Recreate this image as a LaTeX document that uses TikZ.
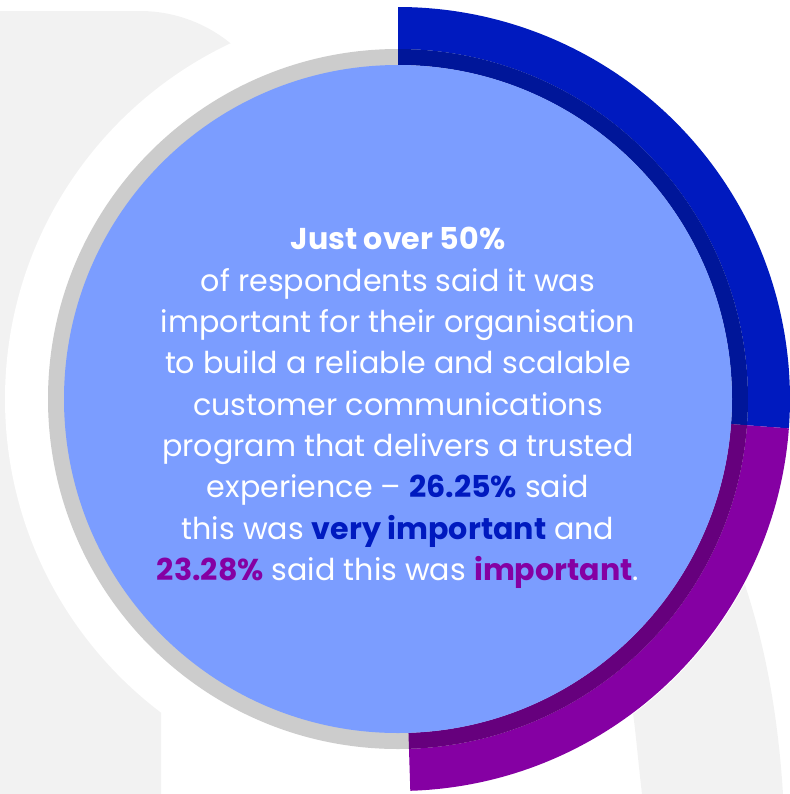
\documentclass[tikz,border=0pt]{standalone}
\usepackage{fontspec}
\setmainfont{Poppins}
\usetikzlibrary{calc}
\definecolor{bggray}{RGB}{242,242,242}
\definecolor{ringgray}{RGB}{204,204,204}
\definecolor{discblue}{RGB}{123,157,255}
\definecolor{veryblue}{RGB}{0,26,191}
\definecolor{verybluedark}{RGB}{0,22,153}
\definecolor{imppurple}{RGB}{133,0,163}
\definecolor{imppurpledark}{RGB}{102,0,125}
\tikzset{every picture/.style={line width=0.75pt}}

\begin{document}
\begin{tikzpicture}[x=0.75pt,y=0.75pt,yscale=-1,xscale=1]
	\useasboundingbox (0,0) rectangle (790,794);
	\coordinate (c) at (398,399);
	
	%Shape: Background
	\fill[bggray] (0,794) -- (0,11) -- (140,11) arc[start angle=-90,end angle=-30,radius=143] -- (c) -- (720,520) .. controls (760,610) and (777,700) .. (783,794) -- (642,794) .. controls (638,760) and (636,735) .. (633,713) -- (c) -- (161,713) -- (161,794) -- cycle ;
	%Shape: Circle
	\fill[white] (c) circle[radius=393] ;
	%Shape: Circle
	\fill[ringgray] (c) circle[radius=350] ;
	
	%Shape: Arc
	\fill[veryblue] ([shift={(-90:392)}]c) arc[start angle=-90,end angle=4.3,radius=392] -- ([shift={(4.3:350)}]c) arc[start angle=4.3,end angle=-90,radius=350] -- cycle ;
	\fill[verybluedark] ([shift={(-90:350)}]c) arc[start angle=-90,end angle=4.3,radius=350] -- ([shift={(4.3:334)}]c) arc[start angle=4.3,end angle=-90,radius=334] -- cycle ;
	%Shape: Arc
	\fill[imppurple] ([shift={(4.3:392)}]c) arc[start angle=4.3,end angle=88.2,radius=392] -- ([shift={(88.2:350)}]c) arc[start angle=88.2,end angle=4.3,radius=350] -- cycle ;
	\fill[imppurpledark] ([shift={(4.3:350)}]c) arc[start angle=4.3,end angle=88.2,radius=350] -- ([shift={(88.2:334)}]c) arc[start angle=88.2,end angle=4.3,radius=334] -- cycle ;
	
	%Shape: Circle
	\fill[discblue] (c) circle[radius=334] ;
	
	% Text Node
	\node[align=center, text=white, font=\fontsize{22.6}{31}\selectfont] (blurb) at (398,408) {\textbf{Just over 50\%}\\of respondents said it was\\important for their organisation\\to build a reliable and scalable\\customer communications\\program that delivers a trusted\\experience -- \textcolor{veryblue}{\textbf{26.25\%}} said\\this was \textcolor{veryblue}{\textbf{very important}} and\\\textcolor{imppurple}{\textbf{23.28\%}} said this was \textcolor{imppurple}{\textbf{important}}.};
	
\end{tikzpicture}
\end{document}
